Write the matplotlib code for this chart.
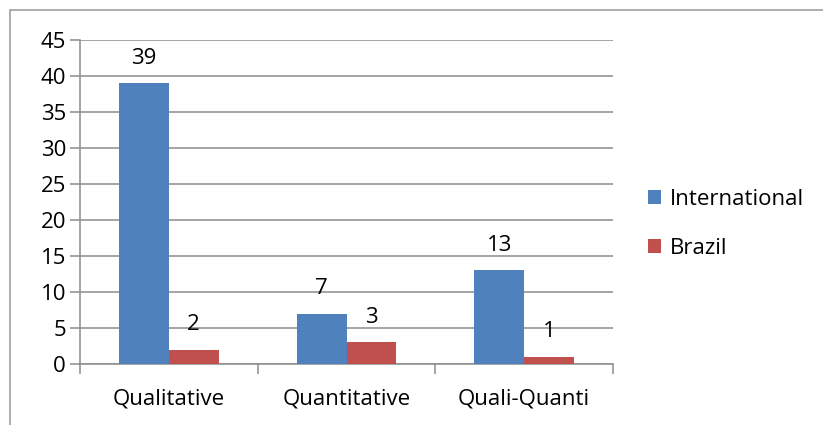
import matplotlib.pyplot as plt
import numpy as np
from matplotlib.patches import Rectangle

categories = ['Qualitative', 'Quantitative', 'Quali-Quanti']
international = [39, 7, 13]
brazil = [2, 3, 1]
series_names = ['International', 'Brazil']
colors = ['#4F81BD', '#C0504D']

plt.rcParams['font.family'] = ['Open Sans', 'DejaVu Sans']
FS = 16

W, H = 823, 425
fig = plt.figure(figsize=(W / 100, H / 100), dpi=100)
ax = fig.add_axes([80 / W, 1 - 364 / H, (613 - 80) / W, (364 - 40) / H])

# outer chart border (top and left visible)
fig.patches.append(Rectangle((10 / W, -0.1), 1.2, (H - 10) / H + 0.1, transform=fig.transFigure,
                             fill=False, edgecolor='#A0A0A0', linewidth=1.2))

x = np.arange(len(categories))
bw = 0.28
b1 = ax.bar(x - bw / 2, international, bw, color=colors[0], label=series_names[0], zorder=3)
b2 = ax.bar(x + bw / 2, brazil, bw, color=colors[1], label=series_names[1], zorder=3)

for bars in (b1, b2):
    for r in bars:
        ax.text(r.get_x() + r.get_width() / 2, r.get_height() + 2.0, '{}'.format(int(r.get_height())),
                ha='center', va='bottom', fontsize=FS, color='black')

ax.set_xlim(-0.5, len(categories) - 0.5)
ax.set_ylim(0, 45)
ax.set_yticks(range(0, 46, 5))
ax.yaxis.grid(True, color='#8C8C8C', linewidth=1.1, zorder=0)
ax.set_axisbelow(True)

ax.set_xticks(np.arange(-0.5, len(categories), 1.0))
ax.set_xticklabels([])
ax.set_xticks(x, minor=True)
ax.set_xticklabels(categories, minor=True, fontsize=FS)
ax.tick_params(axis='x', which='minor', length=0, pad=18)
ax.tick_params(axis='x', which='major', length=7, color='#8C8C8C', width=1.1)
ax.tick_params(axis='y', length=7, color='#8C8C8C', width=1.1, labelsize=FS, pad=3)

for s in ['top', 'right']:
    ax.spines[s].set_visible(False)
for s in ['left', 'bottom']:
    ax.spines[s].set_color('#8C8C8C')
    ax.spines[s].set_linewidth(1.1)

leg = fig.legend(loc='center left', bbox_to_anchor=(628 / W, 1 - 224 / H), frameon=False,
                 fontsize=FS, handlelength=0.6, handleheight=0.6, handletextpad=0.4,
                 labelspacing=1.25)

plt.savefig('out.png', dpi=100)
